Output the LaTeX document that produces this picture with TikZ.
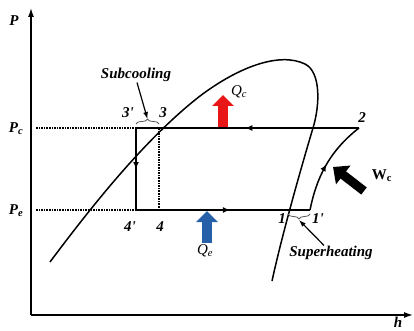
\documentclass[tikz,border=0pt]{standalone}
\usepackage{fontspec}
\setmainfont{Liberation Serif}
\usetikzlibrary{arrows.meta,calc,decorations.markings,decorations.pathreplacing}

\definecolor{heatred}{RGB}{232,22,22}
\definecolor{heatblue}{RGB}{38,96,168}

\tikzset{
  lbl/.style={font=\fontsize{15}{17}\selectfont\bfseries\itshape, inner sep=0pt},
  flow/.style={postaction={decorate},
    decoration={markings,mark=at position #1 with {\arrow{Latex[length=7pt,width=6pt]}}}},
  guide/.style={densely dotted, line width=1.6pt},
  heat/.style={line width=10pt, -{Triangle[length=11pt,width=21pt]}},
}

\begin{document}
\begin{tikzpicture}[line width=1.5pt, line join=round, x=1pt, y=-1pt]
  \useasboundingbox (0,0) rectangle (414,331);
  % Axes.
  \coordinate (o) at (31,315);
  \draw[line width=1.4pt,-{Latex[length=9pt,width=6pt]}] (o) -- (31,8);
  \draw[line width=1.4pt,-{Latex[length=9pt,width=6pt]}] (o) -- (413,315);
  \node[lbl] (pax) at (14,21) {P};
  \node[lbl] (hax) at (398,322) {h};
  % Saturation dome.
  \draw (50,262) .. controls (100,195) and (150,135) .. (200,96)
    .. controls (240,66) and (280,52) .. (305,64)
    .. controls (321,72) and (320,105) .. (313,128)
    .. controls (301,168) and (282,235) .. (272,281);
  % Cycle corners.
  \coordinate (s3p) at (136,128);
  \coordinate (s3) at (159,128);
  \coordinate (s4p) at (136,210);
  \coordinate (s4) at (159,210);
  \coordinate (s1) at (288,210);
  \coordinate (s1p) at (310,210);
  \coordinate (s2) at (359,128);
  % Pressure guides.
  \node[lbl] (pc) at (16,129) {P\textsubscript{c}};
  \node[lbl] (pe) at (16,211) {P\textsubscript{e}};
  \draw[guide] (36,128) -- (s3p);
  \draw[guide] (36,210) -- (s4p);
  \draw[guide] (s3) -- (s4);
  % Cycle.
  \draw[flow=0.51] (s2) -- (s3p);
  \draw[flow=0.5] (s3p) -- (s4p);
  \draw[flow=0.54] (s4p) -- (s1p);
  \draw[flow=0.5] (s1p) .. controls (316,180) and (328,152) .. (s2);
  % Point labels.
  \node[lbl] (l3p) at (128,113) {3\textquotesingle};
  \node[lbl] (l3) at (163,113) {3};
  \node[lbl] (l4p) at (130,227) {4\textquotesingle};
  \node[lbl] (l4) at (160,227) {4};
  \node[lbl] (l1) at (282,219) {1};
  \node[lbl] (l1p) at (318,219) {1\textquotesingle};
  \node[lbl] (l2) at (362,118) {2};
  % Subcooling.
  \draw[line width=0.8pt, gray!70!black, decorate, decoration={brace, amplitude=5pt}]
    (136,124) -- coordinate[pos=0.5] (subtip) (159,124);
  \node[lbl] (sub) at (136,75) {Subcooling};
  \draw[line width=1.2pt, -{Latex[length=7pt,width=5pt]}] ([xshift=1pt]sub.south) -- ($(subtip)+(0,-5)$);
  % Superheating.
  \draw[line width=0.8pt, gray!70!black, decorate, decoration={brace, amplitude=5pt}]
    (310,214) -- coordinate[pos=0.5] (suptip) (288,214);
  \node[lbl] (suph) at (331,253) {Superheating};
  \draw[line width=1.2pt, -{Latex[length=7pt,width=5pt]}] ([xshift=-7pt]suph.north) -- ($(suptip)+(0,6)$);
  % Heat and work.
  \draw[heat, heatred] (223,127) -- (223,95);
  \node[lbl, font=\fontsize{15}{17}\selectfont\itshape] (qc) at (239,92) {Q\textsubscript{c}};
  \draw[heat, heatblue] (207,243) -- (207,211);
  \node[lbl, font=\fontsize{15}{17}\selectfont\itshape] (qe) at (205,251) {Q\textsubscript{e}};
  \draw[heat, line width=9pt, -{Triangle[length=13pt,width=23pt]}] (364,191) -- (333,167);
  \node[lbl, font=\fontsize{15}{17}\selectfont\bfseries] (wc) at (382,176) {W\textsubscript{c}};
\end{tikzpicture}
\end{document}
